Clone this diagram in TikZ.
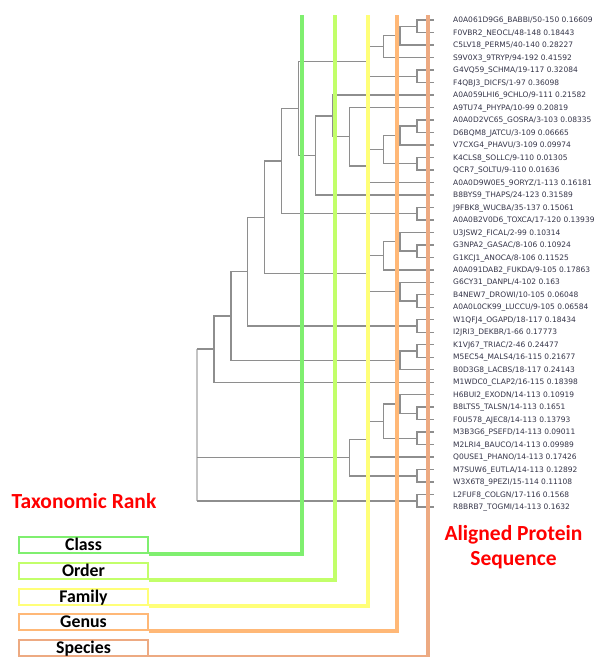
\documentclass[tikz,border=0pt]{standalone}
\usepackage{fontspec}
\setmainfont{DejaVu Sans}
\newfontfamily\calib{Carlito}
\usetikzlibrary{calc}
\definecolor{classc}{HTML}{7FEF6F}
\definecolor{orderc}{HTML}{C2FF6A}
\definecolor{familyc}{HTML}{FFFF78}
\definecolor{genusc}{HTML}{FFB877}
\definecolor{speciesc}{HTML}{EDAA82}
\definecolor{treegray}{HTML}{8E8E8E}
\definecolor{rootgray}{HTML}{C4C4C4}
\definecolor{labc}{HTML}{333347}
\definecolor{titlered}{HTML}{FF0000}
\newcommand\mkleaf[2]{%
  \coordinate (l#1) at (434,{20+12.49*(#1-1)});
  \node[lab] (t#1) at (453,{20+12.49*(#1-1)}) {#2};}
\newcommand\mknode[4]{%
  \path let \p1=($(#3)!.5!(#4)$) in ({434-16.93*#2},\y1) coordinate (#1);
  \draw[tree] (#1) |- (#3) (#1) |- (#4);}
\begin{document}
\begin{tikzpicture}[x=1pt,y=-1pt,
  tree/.style={draw=treegray,line width=1.4pt},
  lab/.style={anchor=west,inner sep=0pt,text height=5.4pt,text depth=0pt,font=\fontsize{7.5}{9}\selectfont,text=labc},
  rankline/.style={line width=3.8pt},
  rankbox/.style={draw,line width=2pt,minimum width=129pt,minimum height=16pt,inner sep=0pt,font=\calib\bfseries\fontsize{17.8}{20}\selectfont,text height=11.5pt,text depth=0pt},
  titletext/.style={font=\calib\bfseries\fontsize{21.5}{25}\selectfont,text=titlered,inner sep=0pt,anchor=base}]
\useasboundingbox (0,0) rectangle (595,657);
\mkleaf{1}{A0A061D9G6\_BABBI/50-150 0.16609}
\mkleaf{2}{F0VBR2\_NEOCL/48-148 0.18443}
\mkleaf{3}{C5LV18\_PERM5/40-140 0.28227}
\mkleaf{4}{S9V0X3\_9TRYP/94-192 0.41592}
\mkleaf{5}{G4VQ59\_SCHMA/19-117 0.32084}
\mkleaf{6}{F4QBJ3\_DICFS/1-97 0.36098}
\mkleaf{7}{A0A059LHI6\_9CHLO/9-111 0.21582}
\mkleaf{8}{A9TU74\_PHYPA/10-99 0.20819}
\mkleaf{9}{A0A0D2VC65\_GOSRA/3-103 0.08335}
\mkleaf{10}{D6BQM8\_JATCU/3-109 0.06665}
\mkleaf{11}{V7CXG4\_PHAVU/3-109 0.09974}
\mkleaf{12}{K4CLS8\_SOLLC/9-110 0.01305}
\mkleaf{13}{QCR7\_SOLTU/9-110 0.01636}
\mkleaf{14}{A0A0D9W0E5\_9ORYZ/1-113 0.16181}
\mkleaf{15}{B8BYS9\_THAPS/24-123 0.31589}
\mkleaf{16}{J9FBK8\_WUCBA/35-137 0.15061}
\mkleaf{17}{A0A0B2V0D6\_TOXCA/17-120 0.13939}
\mkleaf{18}{U3JSW2\_FICAL/2-99 0.10314}
\mkleaf{19}{G3NPA2\_GASAC/8-106 0.10924}
\mkleaf{20}{G1KCJ1\_ANOCA/8-106 0.11525}
\mkleaf{21}{A0A091DAB2\_FUKDA/9-105 0.17863}
\mkleaf{22}{G6CY31\_DANPL/4-102 0.163}
\mkleaf{23}{B4NEW7\_DROWI/10-105 0.06048}
\mkleaf{24}{A0A0L0CK99\_LUCCU/9-105 0.06584}
\mkleaf{25}{W1QFJ4\_OGAPD/18-117 0.18434}
\mkleaf{26}{I2JRI3\_DEKBR/1-66 0.17773}
\mkleaf{27}{K1VJ67\_TRIAC/2-46 0.24477}
\mkleaf{28}{M5EC54\_MALS4/16-115 0.21677}
\mkleaf{29}{B0D3G8\_LACBS/18-117 0.24143}
\mkleaf{30}{M1WDC0\_CLAP2/16-115 0.18398}
\mkleaf{31}{H6BUI2\_EXODN/14-113 0.10919}
\mkleaf{32}{B8LTS5\_TALSN/14-113 0.1651}
\mkleaf{33}{F0U578\_AJEC8/14-113 0.13793}
\mkleaf{34}{M3B3G6\_PSEFD/14-113 0.09011}
\mkleaf{35}{M2LRI4\_BAUCO/14-113 0.09989}
\mkleaf{36}{Q0USE1\_PHANO/14-113 0.17426}
\mkleaf{37}{M7SUW6\_EUTLA/14-113 0.12892}
\mkleaf{38}{W3X6T8\_9PEZI/15-114 0.11108}
\mkleaf{39}{L2FUF8\_COLGN/17-116 0.1568}
\mkleaf{40}{R8BRB7\_TOGMI/14-113 0.1632}
% tree
\mknode{a12}{1}{l1}{l2}
\mknode{a13}{2}{a12}{l3}
\mknode{a14}{3}{a13}{l4}
\mknode{a56}{1}{l5}{l6}
\mknode{a16}{4}{a14}{a56}
\mknode{a910}{1}{l9}{l10}
\mknode{a911}{2}{a910}{l11}
\mknode{a1213}{1}{l12}{l13}
\mknode{a913}{3}{a911}{a1213}
\mknode{a914}{4}{a913}{l14}
\mknode{a814}{5}{l8}{a914}
\mknode{a714}{6}{l7}{a814}
\mknode{a715}{7}{a714}{l15}
\mknode{a115}{8}{a16}{a715}
\mknode{a1617}{1}{l16}{l17}
\mknode{a117}{9}{a115}{a1617}
\mknode{a1920}{1}{l19}{l20}
\mknode{a1820}{2}{l18}{a1920}
\mknode{a1821}{3}{a1820}{l21}
\mknode{a2324}{1}{l23}{l24}
\mknode{a2224}{2}{l22}{a2324}
\mknode{a1824}{4}{a1821}{a2224}
\mknode{a124}{10}{a117}{a1824}
\mknode{a2526}{1}{l25}{l26}
\mknode{a126}{11}{a124}{a2526}
\mknode{a2728}{1}{l27}{l28}
\mknode{a2729}{2}{a2728}{l29}
\mknode{a129}{12}{a126}{a2729}
\mknode{a130}{13}{a129}{l30}
\mknode{a3233}{1}{l32}{l33}
\mknode{a3133}{2}{l31}{a3233}
\mknode{a3435}{1}{l34}{l35}
\mknode{a3135}{3}{a3133}{a3435}
\mknode{a3136}{4}{a3135}{l36}
\mknode{a3738}{1}{l37}{l38}
\mknode{a3138}{5}{a3136}{a3738}
\mknode{a3940}{1}{l39}{l40}
\path let \p1=($(a130)!.5!(a3940)$) in ({434-16.93*14},\y1) coordinate (root);
\draw[tree,draw=rootgray] (root |- a130) -- (root |- a3940);
\draw[tree] (root |- a130) -- (a130) (root |- a3138) -- (a3138) (root |- a3940) -- (a3940);
% rank boxes
\node[rankbox,draw=classc] (class) at (83.5,545) {Class};
\node[rankbox,draw=orderc] (order) at (83.5,571) {Order};
\node[rankbox,draw=familyc] (family) at (83.5,597) {Family};
\node[rankbox,draw=genusc] (genus) at (83.5,622) {Genus};
\node[rankbox,draw=speciesc] (species) at (83.5,647.5) {Species};
\coordinate (ctop) at (302,15);
\coordinate (otop) at (335,15);
\coordinate (ftop) at (368,15);
\coordinate (gtop) at (397,15);
\coordinate (stop) at (428,15);
\draw[rankline,classc] (ctop) |- (class.south east);
\draw[rankline,orderc] (otop) |- (order.south east);
\draw[rankline,familyc] (ftop) |- (family.south east);
\draw[rankline,genusc] (gtop) |- (genus.south east);
\draw[rankline,speciesc] (stop) |- (species.south east);
% titles
\node[titletext] (taxo) at (84,508.3) {Taxonomic Rank};
\node[titletext] (ap1) at (513.5,540) {Aligned Protein};
\node[titletext] (ap2) at (513.5,565.7) {Sequence};
\end{tikzpicture}
\end{document}
